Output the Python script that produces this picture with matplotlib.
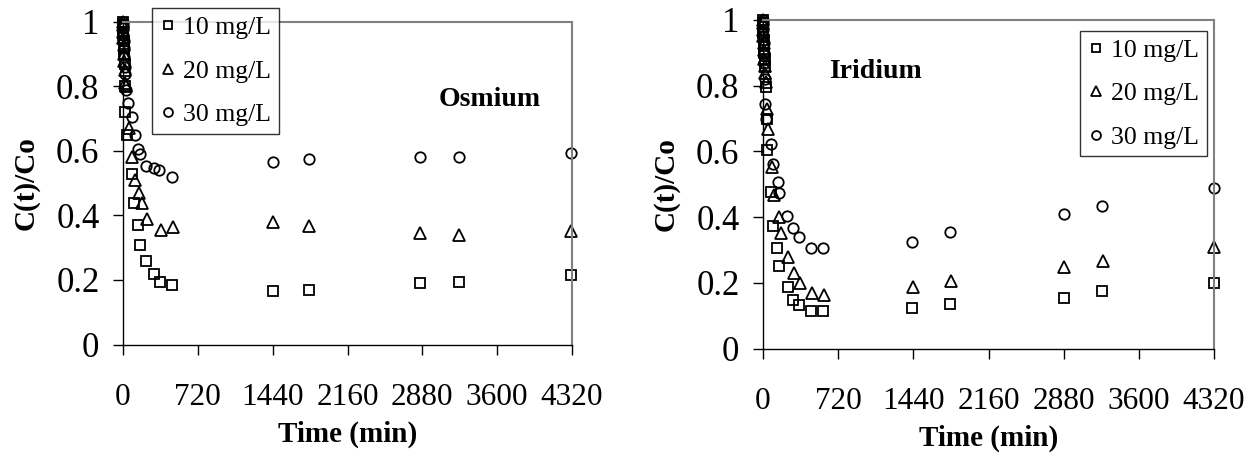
import numpy as np
import matplotlib
matplotlib.use('Agg')
import matplotlib.pyplot as plt
import matplotlib as mpl

# Osmium data (time in min, C(t)/Co)
os_t10 = [0, 1, 2, 3, 5, 7, 10, 15, 20, 22, 40, 90, 105, 145, 165, 225, 300, 360, 470,
          1440, 1790, 2860, 3230, 4310]
os_c10 = [1.0, 0.99, 0.98, 0.96, 0.94, 0.92, 0.90, 0.87, 0.80, 0.72, 0.65, 0.53, 0.44, 0.37,
          0.31, 0.26, 0.22, 0.195, 0.185, 0.165, 0.17, 0.19, 0.195, 0.215]
os_t20 = [0, 1, 2, 3, 5, 7, 10, 15, 20, 30, 58, 90, 113, 154, 180, 234, 363, 482,
          1440, 1790, 2860, 3230, 4310]
os_c20 = [1.0, 0.99, 0.97, 0.95, 0.93, 0.90, 0.88, 0.85, 0.81, 0.80, 0.67, 0.58, 0.51, 0.47,
          0.44, 0.39, 0.355, 0.363, 0.379, 0.366, 0.347, 0.341, 0.351]
os_t30 = [0, 1, 2, 3, 5, 7, 10, 15, 20, 30, 51, 90, 116, 145, 161, 218, 299, 347, 476,
          1440, 1790, 2860, 3230, 4310]
os_c30 = [1.0, 0.99, 0.98, 0.96, 0.94, 0.92, 0.89, 0.86, 0.84, 0.79, 0.75, 0.705, 0.65, 0.607,
          0.59, 0.555, 0.547, 0.542, 0.518, 0.567, 0.575, 0.581, 0.581, 0.595]

# Iridium data
ir_t10 = [0, 1, 2, 3, 5, 7, 10, 15, 20, 29, 35, 41, 74, 99, 137, 157, 237, 291, 348, 460, 578,
          1430, 1790, 2880, 3250, 4320]
ir_c10 = [1.0, 0.99, 0.98, 0.96, 0.94, 0.92, 0.90, 0.88, 0.86, 0.795, 0.70, 0.603, 0.477, 0.373,
          0.305, 0.252, 0.187, 0.148, 0.133, 0.113, 0.113, 0.123, 0.136, 0.154, 0.174, 0.199]
ir_t20 = [0, 1, 2, 3, 5, 7, 10, 15, 20, 29, 40, 51, 89, 108, 153, 170, 243, 300, 355, 467, 588,
          1440, 1800, 2880, 3260, 4320]
ir_c20 = [1.0, 0.99, 0.97, 0.95, 0.93, 0.91, 0.88, 0.86, 0.84, 0.81, 0.73, 0.667, 0.552, 0.467,
          0.40, 0.351, 0.28, 0.231, 0.199, 0.169, 0.164, 0.187, 0.206, 0.248, 0.265, 0.31]
ir_t30 = [0, 1, 2, 3, 5, 7, 10, 15, 19, 30, 77, 99, 141, 157, 233, 291, 348, 460, 578,
          1430, 1790, 2880, 3250, 4320]
ir_c30 = [1.0, 0.99, 0.97, 0.95, 0.93, 0.90, 0.87, 0.82, 0.745, 0.70, 0.623, 0.563, 0.507, 0.472,
          0.403, 0.366, 0.338, 0.307, 0.307, 0.325, 0.355, 0.409, 0.434, 0.49]

labels = ['10 mg/L', '20 mg/L', '30 mg/L']
xticks = [0, 720, 1440, 2160, 2880, 3600, 4320]
yticks = [0, 0.2, 0.4, 0.6, 0.8, 1]
ytick_labels = ['0', '0.2', '0.4', '0.6', '0.8', '1']

plt.rcParams['font.family'] = ['Liberation Serif', 'DejaVu Serif']

W, H = 1249, 454
fig = plt.figure(figsize=(W / 100, H / 100), dpi=100)


def px_axes(x0, x1, y0, y1):
    # pixel box (top-left origin) -> figure fraction
    return fig.add_axes([x0 / W, 1 - y1 / H, (x1 - x0) / W, (y1 - y0) / H])


def panel(ax, data, title, title_xy, leg_anchor, leg_loc):
    markers = ['s', '^', 'o']
    for (t, c), m, lab in zip(data, markers, labels):
        ax.plot(t, c, linestyle='none', marker=m, markerfacecolor='none',
                markeredgecolor='k', markeredgewidth=1.3,
                markersize=7.5 if m != '^' else 8.5, clip_on=False, label=lab)
    ax.set_xlim(0, 4320)
    ax.set_ylim(0, 1)
    ax.set_xticks(xticks)
    ax.set_yticks(yticks)
    ax.set_yticklabels(ytick_labels)
    ax.tick_params(axis='both', direction='out', length=7, width=1.0,
                   top=False, right=False)
    ax.tick_params(axis='x', labelsize=22.5, pad=21)
    ax.tick_params(axis='y', labelsize=25, pad=10)
    for s in ['left', 'bottom']:
        ax.spines[s].set_color('k')
        ax.spines[s].set_linewidth(1.0)
    for s in ['top', 'right']:
        ax.spines[s].set_color('#808080')
        ax.spines[s].set_linewidth(1.5)
    ax.set_xlabel('Time (min)', fontsize=21, fontweight='bold', labelpad=6)
    ax.set_ylabel('C(t)/Co', fontsize=21, fontweight='bold', labelpad=12)
    ax.text(title_xy[0], title_xy[1], title, transform=ax.transAxes,
            fontsize=20, fontweight='bold', ha='center', va='center')
    leg = ax.legend(loc=leg_loc, bbox_to_anchor=leg_anchor, borderaxespad=0,
                    fontsize=18.5, frameon=True, fancybox=False, handlelength=0.7,
                    handletextpad=0.22, labelspacing=0.8, borderpad=0.3,
                    markerscale=0.85)
    leg.get_frame().set_edgecolor('k')
    leg.get_frame().set_linewidth(1.0)
    leg.set_zorder(5)


ax1 = px_axes(123, 572, 22, 344.5)
panel(ax1, [(os_t10, os_c10), (os_t20, os_c20), (os_t30, os_c30)], 'Osmium',
      ((490 - 123) / 449, (344.5 - 100) / 322.5), (0.064, 1.0425), 'upper left')

ax2 = px_axes(763, 1214, 20, 348.5)
panel(ax2, [(ir_t10, ir_c10), (ir_t20, ir_c20), (ir_t30, ir_c30)], 'Iridium',
      ((875 - 763) / 451, (348.5 - 72) / 328.5), (0.984, 0.967), 'upper right')

plt.savefig('out.png', dpi=100)
plt.close()
